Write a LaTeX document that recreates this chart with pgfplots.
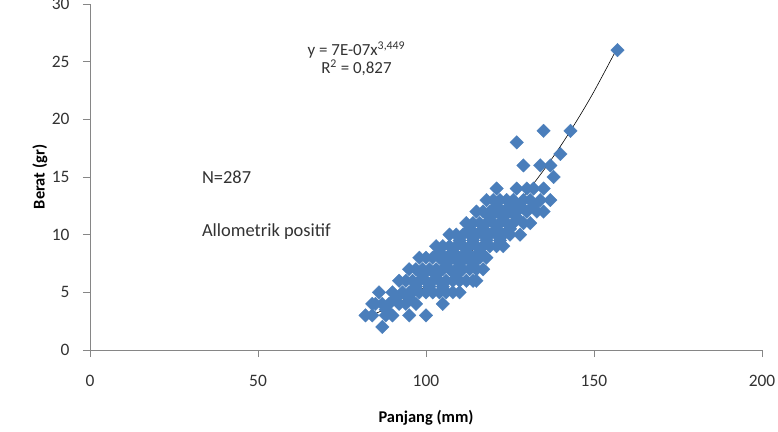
\documentclass[border=0pt]{standalone}
\usepackage{fontspec}
\setmainfont{Carlito}
\usepackage{pgfplots}
\pgfplotsset{compat=1.18}
\definecolor{ptblue}{RGB}{74,126,187}
\definecolor{axgray}{RGB}{134,134,134}
\definecolor{txt}{RGB}{50,50,50}
\begin{document}
\begin{tikzpicture}
\begin{axis}[
  name=ax,
  scale only axis,
  width=672bp, height=346bp,
  xmin=0, xmax=200, ymin=0, ymax=30,
  xtick={0,50,100,150,200},
  ytick={0,5,10,15,20,25,30},
  axis x line*=bottom, axis y line*=left,
  axis line style={axgray, line width=0.8pt, -},
  tick style={axgray, line width=0.8pt},
  tick align=outside,
  major tick length=7bp,
  /pgf/number format/assume math mode=true,
  tick label style={font=\fontsize{17.5}{20}\selectfont, text=txt},
  xticklabel style={yshift=-15bp},
  yticklabel style={xshift=-10bp},
  xlabel={\textbf{Panjang (mm)}},
  ylabel={\textbf{Berat (gr)}},
  every axis x label/.style={at={(axis description cs:0.5,0)}, anchor=center, yshift=-68bp,
     font=\fontsize{16.5}{19}\selectfont, text=black},
  every axis y label/.style={at={(axis description cs:0,0.5)}, anchor=center, xshift=-50bp, rotate=90,
     font=\fontsize{16.5}{19}\selectfont, text=black},
]
\addplot[only marks, mark=square*, mark size=4.8pt,
  mark options={rotate=45, fill=ptblue, draw=ptblue, line width=0.3pt}]
  coordinates {
  (87,2)
  (82,3) (84,3) (88,3) (90,3) (95,3) (100,3)
  (84,4) (85,4) (87,4) (89,4) (92,4) (94,4) (97,4) (105,4)
  (86,5) (90,5) (93,5) (95,5) (96,5) (98,5) (100,5) (102,5) (104,5) (106,5) (108,5) (110,5)
  (92,6) (94,6) (96,6) (98,6) (100,6) (102,6) (104,6) (106,6) (108,6) (110,6) (112,6) (114,6) (115,6)
  (95,7) (97,7) (99,7) (101,7) (103,7) (105,7) (107,7) (109,7) (111,7) (113,7) (115,7) (117,7)
  (98,8) (100,8) (102,8) (104,8) (106,8) (108,8) (110,8) (112,8) (114,8) (116,8) (118,8)
  (103,9) (105,9) (107,9) (109,9) (111,9) (113,9) (115,9) (117,9) (119,9) (121,9) (123,9)
  (107,10) (109,10) (111,10) (113,10) (115,10) (117,10) (119,10) (121,10) (123,10) (125,10) (128,10)
  (112,11) (114,11) (116,11) (118,11) (120,11) (122,11) (124,11) (126,11) (129,11) (131,11)
  (115,12) (117,12) (119,12) (121,12) (123,12) (125,12) (127,12) (130,12) (133,12) (135,12)
  (118,13) (120,13) (122,13) (124,13) (126,13) (129,13) (131,13) (134,13) (137,13)
  (121,14) (127,14) (130,14) (132,14) (135,14)
  (138,15)
  (129,16) (134,16) (137,16)
  (140,17)
  (127,18)
  (135,19) (143,19)
  (157,26)
  (97,5.5) (101,5.5) (105,5.5) (109,6.5) (103,6.5) (99,6.5) (106,7.5) (110,7.5) (114,7.5)
  (104,8.5) (108,8.5) (112,8.5) (116,8.5) (110,9.5) (114,9.5) (118,9.5) (122,9.5)
  (113,10.5) (117,10.5) (121,10.5) (125,10.5) (119,11.5) (123,11.5) (127,11.5)
  (121,12.5) (125,12.5) (128,12.5) (132,12.5) (91,4.5) (95,4.5) (88,3.5)
  };
\addplot[black, line width=0.6pt, smooth] coordinates {
  (82,2.791) (85,3.160) (90,3.848) (95,4.637) (100,5.535) (105,6.549)
  (110,7.689) (115,8.964) (120,10.379) (125,11.949) (130,13.678)
  (135,15.583) (140,17.664) (145,19.94) (150,22.415) (157,26.228)
};
\node[font=\fontsize{17}{19}\selectfont, text=txt, align=center] at (axis cs:79.3,25.25)
  {y = 7E-07x\textsuperscript{3,449}\\[-1bp] R\textsuperscript{2} = 0,827};
\node[font=\fontsize{18.5}{21}\selectfont, text=txt, anchor=west] at (axis cs:32.3,14.96) {N=287};
\node[font=\fontsize{18.5}{21}\selectfont, text=txt, anchor=west] at (axis cs:32.3,10.26) {Allometrik positif};
\end{axis}
\pgfresetboundingbox
\path[use as bounding box] ([shift={(-90bp,-82bp)}]ax.south west) rectangle ([shift={(688bp,350bp)}]ax.south west);
\end{tikzpicture}
\end{document}
